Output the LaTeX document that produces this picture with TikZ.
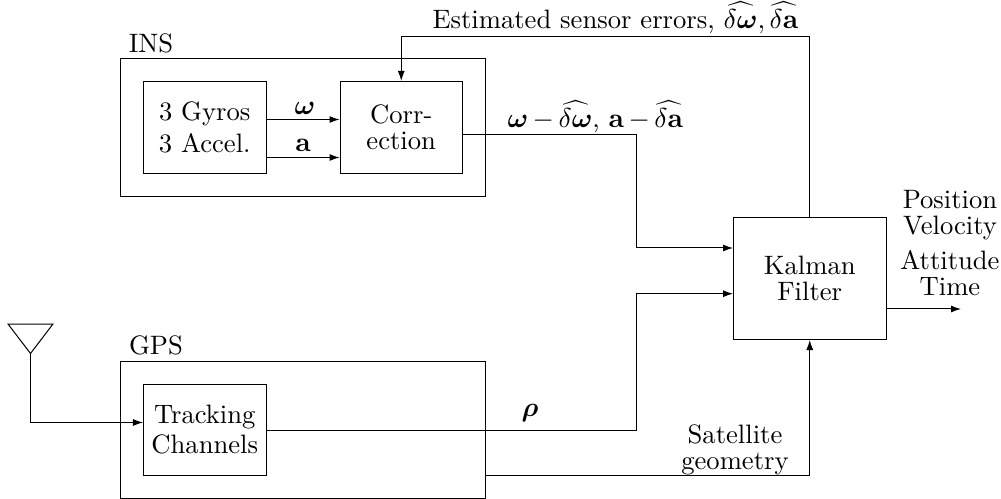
\documentclass[tikz,border=0pt]{standalone}
\usepackage{bm}
\usetikzlibrary{arrows.meta}
\tikzset{
	every node/.style={font=\fontsize{10.65}{12.8}\selectfont},
	outerbox/.style={draw,minimum width=145.6pt,inner sep=0pt},
	blockbox/.style={draw,align=center,minimum width=49pt,minimum height=36.7pt,inner sep=0pt},
	textlabel/.style={inner sep=0pt,align=center},
}
\begin{document}
\begin{tikzpicture}[x=0.4pt,y=0.4pt,yscale=-1,xscale=1,>={Latex[length=4pt,width=2.8pt]}]
	\useasboundingbox (0,0) rectangle (1001,499);

	% Boxes
	\node (ins) [outerbox,minimum height=54.8pt] at (303,127.5) {};
	\node (gps) [outerbox,minimum height=54.5pt] at (303,430) {};
	\node (sensors) [blockbox] at (204.75,127.25) {3 Gyros\\[0pt]3 Accel.};
	\node (corr) [blockbox] at (401.25,127.25) {Corr-\\[-2.5pt]ection};
	\node (tracking) [blockbox] at (204.75,430) {Tracking\\[-0.8pt]Channels};
	\node (kalman) [blockbox,minimum width=61pt,minimum height=48.8pt] at (809.75,278.5) {Kalman\\[-2.4pt]Filter};
	% Text Node
	\node (inslabel) [textlabel] at (151,43) {INS};
	\node (gpslabel) [textlabel] at (156,345) {GPS};
	\node (estlabel) [textlabel,anchor=base west] at (432,29) {Estimated sensor errors, $\widehat{\delta\bm{\omega}},\widehat{\delta\mathbf{a}}$};
	\node (omegalabel) [textlabel] at (305,108) {$\bm{\omega}$};
	\node (alabel) [textlabel] at (303,145) {$\mathbf{a}$};
	\node (corrlabel) [textlabel,anchor=base west] at (507,128) {\medmuskip=3mu $\bm{\omega}-\widehat{\delta\bm{\omega}}$, $\mathbf{a}-\widehat{\delta\mathbf{a}}$};
	\node (rholabel) [textlabel] at (530,413) {$\bm{\rho}$};
	\node (satlabel) [textlabel] at (735,450) {Satellite\\[-2.4pt]geometry};
	\node (poslabel) [textlabel] at (950,215) {Position\\[-2.4pt]Velocity};
	\node (attlabel) [textlabel] at (950,273) {Attitude\\[-2.4pt]Time};
	% Coordinates
	\coordinate (fbcorner) at (401.25,36.5);
	\coordinate (antleft) at (8,324);
	\coordinate (antright) at (53,324);
	\coordinate (anttip) at (30.5,353.5);
	\coordinate (outend) at (961,309);
	% Connection
	\draw [->] (sensors.east |- 0,119.5) -- (corr.west |- 0,119.5);
	% Connection
	\draw [->] (sensors.east |- 0,157.5) -- (corr.west |- 0,157.5);
	% Connection
	\draw [->] (kalman.north) |- (fbcorner) -- (corr.north);
	% Connection
	\draw [->] (corr.east |- 0,135) -| (636,248) -- (kalman.west |- 0,248);
	% Connection
	\draw [->] (tracking.east) -| (636,293.7) -- (kalman.west |- 0,293.7);
	% Connection
	\draw [->] (gps.east |- 0,475) -| (kalman.south);
	% Connection
	\draw [->] (kalman.east |- outend) -- (outend);
	% Antenna
	\draw (antleft) -- (antright) -- (anttip) -- cycle;
	% Connection
	\draw [->] (anttip) |- (tracking.west |- 0,422.5);

\end{tikzpicture}
\end{document}
